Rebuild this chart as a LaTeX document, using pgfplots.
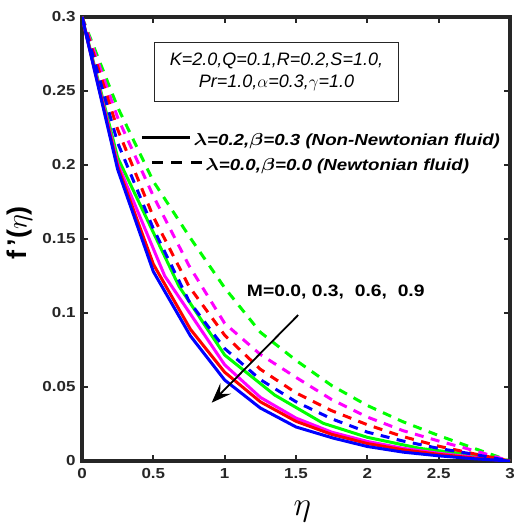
\documentclass[border=0pt]{standalone}
\usepackage{pgfplots}
\pgfplotsset{compat=1.18}
\usepackage{fontspec}
\setmainfont{Liberation Sans}
\usepackage{graphicx}
\usepackage{bm}
\usetikzlibrary{arrows.meta}
\definecolor{mgreen}{RGB}{0,255,0}
\definecolor{mmag}{RGB}{255,0,255}
\definecolor{mred}{RGB}{255,0,0}
\definecolor{mblue}{RGB}{0,0,255}
\definecolor{axc}{RGB}{38,38,38}
\newcommand{\hs}[1]{\scalebox{1.17}[1]{#1}}
\begin{document}
\begin{tikzpicture}
\begin{axis}[
  scale only axis, width=428pt, height=444pt,
  xmin=0, xmax=3, ymin=0, ymax=0.3,
  xtick={0,0.5,1,1.5,2,2.5,3},
  ytick={0,0.05,0.1,0.15,0.2,0.25,0.3},
  xticklabels={\hs{0},\hs{0.5},\hs{1},\hs{1.5},\hs{2},\hs{2.5},\hs{3}},
  yticklabels={\hs{0},\hs{0.05},\hs{0.1},\hs{0.15},\hs{0.2},\hs{0.25},\hs{0.3}},
  tick pos=both, tick align=inside,
  axis line style={line width=3.2pt, axc},
  every tick/.style={axc, line width=2pt},
  major tick length=6pt,
  tick label style={font=\fontsize{14.5}{16}\selectfont\bfseries, text=axc},
  xticklabel style={yshift=-4pt},
  yticklabel style={xshift=-3pt},
  xlabel={\scalebox{1.35}{$\eta$}},
  xlabel style={at={(axis description cs:0.515,-0.113)}, anchor=center, font=\fontsize{24.88}{28}\selectfont},
  ylabel={{\bfseries f\,'(}\scalebox{1.15}{$\eta$}{\bfseries )}},
  ylabel style={at={(axis description cs:-0.1455,0.5135)}, anchor=center, rotate=0, font=\fontsize{27}{30}\selectfont},
  solid/.style={line width=3pt},
  dsh/.style={line width=3pt, dash pattern=on 9pt off 7.5pt},
]
% M=0.0 green
\addplot[mgreen, solid] coordinates {(0,0.300) (0.25,0.205) (0.68,0.118) (1.0,0.0716) (1.35,0.0446) (1.69,0.0255) (2.0,0.016) (2.37,0.0085) (2.73,0.0042) (3,0)};
\addplot[mgreen, dsh] coordinates {(0,0.300) (0.25,0.239) (0.5,0.189) (0.75,0.152) (1.0,0.117) (1.25,0.087) (1.5,0.068) (1.75,0.051) (2.0,0.0375) (2.25,0.0265) (2.5,0.0172) (2.75,0.0085) (3,0)};
% M=0.3 magenta
\addplot[mmag, solid] coordinates {(0,0.300) (0.25,0.201) (0.58,0.125) (1.0,0.065) (1.25,0.043) (1.5,0.029) (1.75,0.0195) (2.0,0.0132) (2.25,0.0086) (2.5,0.0052) (2.75,0.0025) (3,0)};
\addplot[mmag, dsh] coordinates {(0,0.300) (0.25,0.232) (0.5,0.179) (0.75,0.132) (1.0,0.093) (1.25,0.072) (1.5,0.0565) (1.75,0.0415) (2.0,0.0297) (2.25,0.0205) (2.5,0.0135) (2.75,0.007) (3,0)};
% M=0.6 red
\addplot[mred, solid] coordinates {(0,0.300) (0.25,0.199) (0.5,0.133) (0.76,0.089) (1.0,0.060) (1.25,0.040) (1.5,0.0268) (1.75,0.018) (2.0,0.0118) (2.25,0.0076) (2.5,0.0045) (2.75,0.002) (3,0)};
\addplot[mred, dsh] coordinates {(0,0.300) (0.25,0.224) (0.5,0.165) (0.75,0.118) (1.0,0.085) (1.25,0.062) (1.5,0.046) (1.75,0.034) (2.0,0.0245) (2.25,0.0165) (2.5,0.010) (2.75,0.0048) (3,0)};
% M=0.9 blue
\addplot[mblue, solid] coordinates {(0,0.300) (0.25,0.197) (0.5,0.128) (0.76,0.0845) (1.0,0.0547) (1.25,0.0358) (1.5,0.023) (1.76,0.0155) (2.0,0.0098) (2.25,0.006) (2.5,0.0035) (2.75,0.0015) (3,0)};
\addplot[mblue, dsh] coordinates {(0,0.300) (0.25,0.215) (0.5,0.157) (0.75,0.108) (1.0,0.076) (1.25,0.055) (1.5,0.040) (1.75,0.0285) (2.0,0.0195) (2.25,0.0135) (2.5,0.0085) (2.75,0.0045) (3,0)};
% parameter box
\node[draw=axc, line width=0.8pt, fill=white, minimum width=244pt, minimum height=59pt, align=center, inner sep=0pt,
      font=\fontsize{18}{22}\selectfont\itshape] at (axis cs:1.363,0.2627)
      {K=2.0,Q=0.1,R=0.2,S=1.0,\\Pr=1.0,$\alpha$=0.3,$\gamma$=1.0};
% legend-like keys
\draw[black, line width=2.8pt] (axis cs:0.420,0.2188) -- (axis cs:0.758,0.2188);
\node[anchor=base west, inner sep=0pt, font=\fontsize{16}{18}\selectfont\bfseries\itshape] at (axis cs:0.781,0.2135)
      {\hs{$\bm{\lambda}$=0.2,$\bm{\beta}$=0.3 (Non-Newtonian fluid)}};
\draw[black, line width=2.8pt, dash pattern=on 11pt off 8.5pt] (axis cs:0.490,0.2016) -- (axis cs:0.840,0.2016);
\node[anchor=base west, inner sep=0pt, font=\fontsize{16}{18}\selectfont\bfseries\itshape] at (axis cs:0.863,0.1966)
      {\hs{$\bm{\lambda}$=0.0,$\bm{\beta}$=0.0 (Newtonian fluid)}};
% M annotation
\node[anchor=base west, inner sep=0pt, font=\fontsize{16.5}{18}\selectfont\bfseries] at (axis cs:1.155,0.111)
      {\hs{M=0.0, 0.3,\ \ 0.6,\ \ 0.9}};
\draw[black, line width=1.8pt, -{Stealth[length=20pt,width=15pt,inset=8pt]}] (axis cs:1.515,0.0986) -- (axis cs:0.909,0.0394);
\coordinate (ll) at (rel axis cs:0,0);
\coordinate (ur) at (rel axis cs:1,1);
\end{axis}
\pgfresetboundingbox
\path[use as bounding box] ([xshift=-82pt,yshift=-62pt]ll) rectangle ([xshift=8pt,yshift=17pt]ur);
\end{tikzpicture}
\end{document}
